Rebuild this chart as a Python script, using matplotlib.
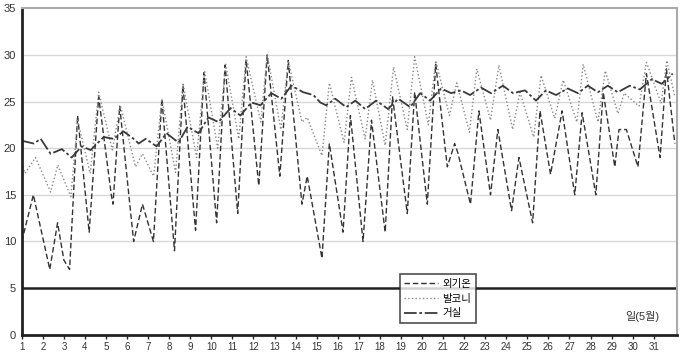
import matplotlib.pyplot as plt

plt.rcParams['font.family'] = ['Liberation Sans', 'Noto Sans CJK KR']

# Outdoor air temperature (외기온), read as daily lows / highs (day of May, deg C)
outdoor_day = [1.00, 1.55, 2.33, 2.70, 3.00, 3.27, 3.65, 4.20, 4.65, 5.25, 5.33, 5.65,
               6.31, 6.73, 7.25, 7.65, 8.25, 8.65, 9.25, 9.65, 10.25, 10.65, 11.25, 11.65,
               12.25, 12.65, 13.25, 13.65, 14.30, 14.55, 15.25, 15.60, 16.25, 16.60,
               17.20, 17.60, 18.25, 18.60, 19.30, 19.65, 20.25, 20.65, 21.20, 21.55,
               21.70, 22.30, 22.70, 23.25, 23.60, 24.25, 24.60, 25.25, 25.60, 26.10,
               26.65, 27.25, 27.60, 28.25, 28.60, 29.15, 29.35, 29.70, 30.25, 30.65,
               31.30, 31.60, 32.00]
outdoor_temp = [10.0, 15.0, 7.0, 12.0, 8.0, 7.0, 23.5, 11.0, 25.5, 15.0, 14.0, 24.5,
                10.0, 14.0, 10.0, 25.3, 9.0, 26.7, 11.2, 28.1, 12.0, 28.9, 13.0, 29.5,
                16.0, 30.0, 17.0, 29.4, 14.0, 17.0, 8.2, 20.5, 11.0, 23.5,
                10.0, 23.0, 11.0, 25.5, 13.0, 26.0, 14.0, 29.0, 18.0, 20.5,
                19.5, 14.0, 24.0, 15.0, 22.0, 13.3, 19.0, 12.0, 24.0, 17.2,
                24.0, 15.0, 23.8, 15.0, 26.0, 18.0, 22.0, 22.0, 18.0, 28.0,
                19.0, 28.5, 20.5]

# Balcony temperature (발코니)
balcony_day = [1.00, 1.15, 1.65, 2.37, 2.71, 3.33, 3.65, 4.25, 4.65, 5.30, 5.68,
               6.40, 6.73, 7.26, 7.65, 8.30, 8.65, 9.30, 9.68, 10.30, 10.68, 11.30, 11.65,
               12.35, 12.65, 13.30, 13.65, 14.30, 14.55, 15.25, 15.60, 16.30, 16.65,
               17.30, 17.65, 18.25, 18.65, 19.30, 19.65, 20.30, 20.65, 21.30, 21.65,
               22.25, 22.60, 23.25, 23.65, 24.30, 24.65, 25.30, 25.65, 26.30, 26.70,
               27.35, 27.65, 28.35, 28.70, 29.30, 29.60, 30.30, 30.65, 31.35, 31.62, 32.00]
balcony_temp = [18.4, 17.3, 19.0, 15.3, 18.2, 14.8, 23.0, 17.3, 26.0, 19.8, 24.6,
                18.0, 19.4, 17.0, 25.3, 17.4, 27.0, 19.0, 28.3, 20.0, 29.0, 21.0, 29.8,
                22.8, 30.1, 22.0, 29.4, 22.8, 23.3, 19.2, 27.0, 20.6, 27.6,
                21.0, 27.3, 20.3, 28.7, 22.0, 29.8, 22.5, 29.4, 23.5, 27.0,
                21.7, 28.5, 23.0, 28.9, 22.0, 26.0, 21.2, 27.8, 23.2, 27.3,
                22.8, 29.0, 22.8, 28.3, 23.7, 25.9, 24.5, 29.2, 24.8, 29.4, 25.5]

# Living room temperature (거실)
living_day = [1.00, 1.57, 1.90, 2.37, 2.90, 3.37, 3.84, 4.27, 4.89, 5.36, 5.83, 6.31,
              6.55, 6.88, 7.40, 7.87, 8.44, 8.87, 9.39, 9.86, 10.34, 10.91, 11.38, 11.90,
              12.33, 12.85, 13.32, 13.80, 14.36, 14.84, 15.17, 15.45, 15.88, 16.40,
              16.83, 17.30, 17.82, 18.39, 18.87, 19.44, 19.91, 20.38, 20.91, 21.38,
              21.85, 22.28, 22.80, 23.27, 23.84, 24.32, 24.89, 25.41, 25.88, 26.36,
              26.92, 27.40, 27.87, 28.35, 28.82, 29.29, 29.86, 30.34, 30.91, 31.38, 31.90]
living_temp = [20.8, 20.5, 21.0, 19.4, 19.9, 19.0, 20.2, 19.8, 21.2, 21.0, 21.8, 21.0,
               20.5, 21.0, 20.2, 21.6, 20.6, 22.3, 21.6, 23.3, 22.8, 24.3, 23.5, 24.9,
               24.6, 25.9, 25.3, 26.7, 26.0, 25.7, 24.9, 24.6, 25.3, 24.4,
               25.1, 24.2, 25.1, 24.2, 25.3, 24.4, 25.9, 25.1, 26.4, 25.9,
               26.2, 25.7, 26.5, 25.9, 26.7, 25.9, 26.2, 25.1, 26.2, 25.7,
               26.4, 25.9, 26.7, 26.0, 26.7, 26.0, 26.7, 26.3, 27.4, 26.9, 28.0]

day_ticks = list(range(1, 32))
temp_ticks = [0, 5, 10, 15, 20, 25, 30, 35]

fig = plt.figure(figsize=(6.8, 3.52), dpi=100)
ax = fig.add_axes([0.032, 0.049, 0.9635, 0.9275])

# light horizontal grid, heavy line at 5
for t in temp_ticks[2:-1]:
    ax.axhline(t, color='#d8d8d8', linewidth=1.0, zorder=0)
ax.axhline(5, color='#222222', linewidth=1.8, zorder=1)

ax.plot(outdoor_day, outdoor_temp, color='#333333', linestyle=(0, (4, 2)), linewidth=1.0, label='외기온')
ax.plot(balcony_day, balcony_temp, color='#888888', linestyle=':', linewidth=1.0, label='발코니')
ax.plot(living_day, living_temp, color='#3a3a3a', linestyle=(0, (7, 1.5, 1.5, 1.5)), linewidth=1.3, label='거실')

ax.set_xlim(1, 32.1)
ax.set_ylim(0, 35)
ax.set_xticks(day_ticks)
ax.set_xticklabels([str(d) for d in day_ticks])
ax.set_yticks(temp_ticks)

ax.tick_params(axis='x', direction='out', length=3, width=1, colors='#222222',
               labelsize=7, labelcolor='#333333', pad=2)
ax.tick_params(axis='y', length=0, labelsize=8, labelcolor='#333333', pad=4)

ax.spines['left'].set_linewidth(2)
ax.spines['left'].set_color('#222222')
ax.spines['bottom'].set_linewidth(2)
ax.spines['bottom'].set_color('#222222')
ax.spines['top'].set_color('#aaaaaa')
ax.spines['top'].set_linewidth(1.5)
ax.spines['right'].set_color('#aaaaaa')
ax.spines['right'].set_linewidth(1.5)

leg = ax.legend(loc='lower left', bbox_to_anchor=(0.577, 0.036), borderaxespad=0,
                fontsize=7.5, frameon=True, fancybox=False, handlelength=3.2,
                handletextpad=0.4, labelspacing=0.45, borderpad=0.45)
leg.get_frame().set_edgecolor('#222222')
leg.get_frame().set_linewidth(1.2)
leg.set_zorder(5)

ax.text(0.947, 0.04, '일(5월)', transform=ax.transAxes, ha='center', va='bottom',
        fontsize=8, color='#333333')

plt.savefig('out.png', dpi=100)
